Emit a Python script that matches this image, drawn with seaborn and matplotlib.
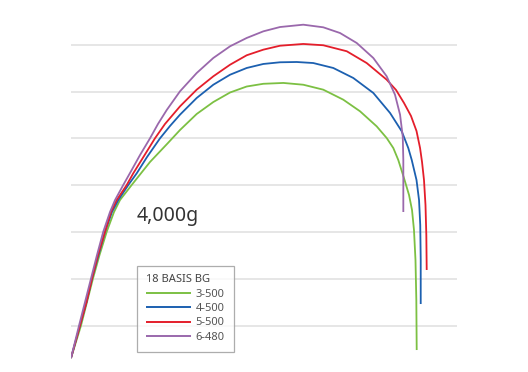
import numpy as np
import pandas as pd
import matplotlib
matplotlib.use("Agg")
import matplotlib.pyplot as plt
import seaborn as sns

# Rod bending curves (arbitrary length units; gridline spacing = 50)
series_names = ["3-500", "4-500", "5-500", "6-480"]
colors = ["#7cc043", "#1c60b0", "#e41e2b", "#9a68ac"]

x_3_500 = [0, 10.7, 17.1, 23.5, 30.5, 38.2, 46.0, 52.4, 64.9, 84.5, 103.7, 116.6, 134.4, 152.2, 170.1,
           187.9, 205.7, 227.1, 248.4, 269.8, 291.2, 309.1, 326.9, 337.6, 344.7, 350.0, 356.1, 361.5,
           364.7, 366.8, 368.4, 369.3, 369.7]
y_3_500 = [-34.8, 0, 25.1, 50.3, 75.4, 100.3, 121.4, 134.2, 150.3, 174.9, 195.2, 209.1, 226.2, 239.0, 249.2,
           255.6, 258.5, 259.4, 257.5, 252.2, 241.5, 229.1, 213.0, 200.5, 189.8, 177.0, 157.7, 139.6,
           123.5, 102.1, 70.1, 27.3, -26.2]

x_4_500 = [0, 9.6, 16.6, 22.5, 29.4, 36.4, 43.8, 50.6, 61.3, 70.3, 81.3, 95.2, 105.9, 116.6, 134.4,
           152.2, 170.1, 187.9, 205.7, 223.5, 241.4, 259.1, 280.5, 301.9, 323.3, 341.2, 353.7, 360.7,
           364.4, 369.5, 372.2, 373.5, 374.0, 374.0]
y_4_500 = [-34.8, 0, 25.1, 50.3, 75.4, 100.3, 121.4, 134.2, 150.3, 162.8, 180.2, 200.2, 213.4, 225.5, 243.3,
           257.5, 268.2, 275.4, 279.7, 281.5, 281.8, 280.7, 275.4, 264.7, 248.7, 227.3, 207.7, 189.8,
           177.0, 155.6, 134.2, 107.5, 70.1, 23.0]

x_5_500 = [0, 9.6, 16.6, 22.5, 28.9, 36.4, 42.8, 48.9, 59.6, 66.6, 78.1, 89.8, 100.5, 116.6, 134.4,
           152.2, 170.1, 187.9, 205.7, 223.5, 248.4, 269.8, 294.9, 316.2, 337.6, 347.6, 356.1, 363.6,
           369.5, 373.3, 375.4, 377.5, 379.1, 380.0, 380.4]
y_5_500 = [-34.8, 0, 25.1, 50.3, 75.4, 100.3, 121.4, 134.2, 150.3, 162.8, 181.3, 200.2, 215.5, 234.4, 252.2,
           266.5, 278.9, 289.0, 295.0, 299.2, 301.1, 299.7, 293.3, 280.7, 262.9, 251.9, 238.0, 224.1,
           208.0, 189.8, 174.9, 155.6, 128.9, 96.8, 59.4]

x_6_480 = [0, 8.6, 15.0, 21.4, 27.8, 34.5, 41.7, 47.1, 55.9, 64.9, 73.8, 84.5, 93.0, 102.4, 116.6,
           134.4, 152.2, 170.1, 187.9, 205.7, 223.5, 248.4, 269.8, 287.7, 305.6, 323.3, 337.6, 346.5,
           351.9, 354.8, 355.4, 355.4]
y_6_480 = [-34.8, 0, 25.1, 50.3, 75.4, 100.3, 121.4, 134.2, 150.3, 166.3, 182.3, 200.2, 215.5, 230.5, 250.5,
           270.0, 286.1, 298.6, 307.5, 314.6, 319.2, 321.7, 318.9, 312.8, 302.1, 286.1, 266.5, 246.8,
           225.5, 201.9, 177.0, 121.4]

grid_levels = [0, 50, 100, 150, 200, 250, 300]
legend_title = "18 BASIS BG"
load_label = "4,000g"

frames = []
for name, xs, ys in zip(series_names,
                        [x_3_500, x_4_500, x_5_500, x_6_480],
                        [y_3_500, y_4_500, y_5_500, y_6_480]):
    frames.append(pd.DataFrame({"x": xs, "y": ys, "series": name}))
df = pd.concat(frames, ignore_index=True)

sns.set_theme(style="white")
plt.rcParams["font.family"] = ["Noto Sans", "DejaVu Sans"]

fig = plt.figure(figsize=(5.28, 3.72), dpi=100)
ax = fig.add_axes([71 / 528, 0, 386 / 528, 1])

for g in grid_levels:
    ax.axhline(g, color="#e4e4e4", lw=1.3, zorder=0)

sns.lineplot(data=df, x="x", y="y", hue="series", palette=dict(zip(series_names, colors)),
             sort=False, estimator=None, units="series", linewidth=1.3, ax=ax)
for ln in ax.get_lines():
    ln.set_solid_joinstyle("round")
    ln.set_solid_capstyle("butt")

ax.set_xlim(0, 412.8)
ax.set_ylim(-49.7, 348.1)
ax.set_xlabel("")
ax.set_ylabel("")
ax.set_xticks([])
ax.set_yticks([])
for s in ax.spines.values():
    s.set_visible(False)

ax.text(70.6, 117.1, load_label, fontsize=14, color="#333333", va="center", ha="left")

leg = ax.legend(title=legend_title, loc="upper left", bbox_to_anchor=(0.172, 0.286),
                borderaxespad=0, frameon=True, fancybox=False, fontsize=8, title_fontsize=8,
                handlelength=4.0, handletextpad=0.45, labelspacing=0.3, borderpad=0.8,
                alignment="left")
leg.get_frame().set_edgecolor("#999999")
leg.get_frame().set_linewidth(0.9)
for t in leg.get_texts():
    t.set_color("#555555")
leg.get_title().set_color("#444444")
for h in leg.get_lines():
    h.set_linewidth(1.4)

fig.savefig("out.png", dpi=100)
